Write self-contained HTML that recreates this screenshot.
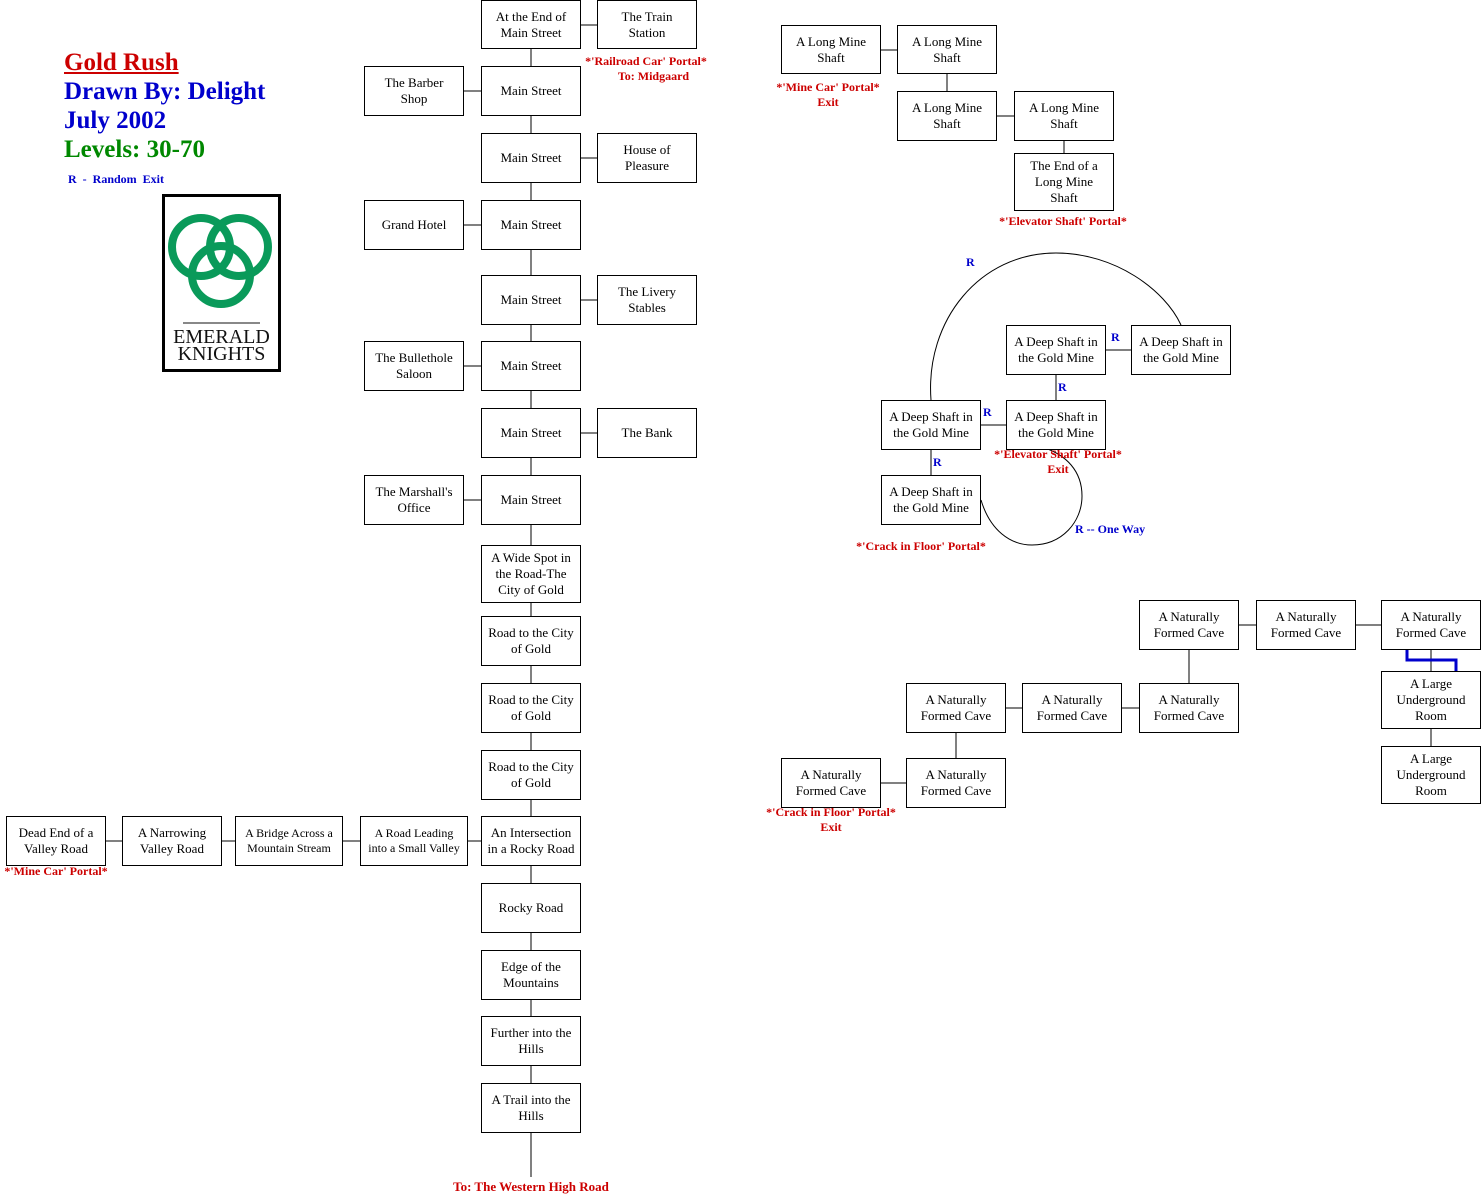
<!DOCTYPE html>
<html><head><meta charset="utf-8"><style>
body{margin:0;width:1481px;height:1194px;background:#fff;position:relative;overflow:hidden;font-family:"Liberation Serif",serif;}
.b{position:absolute;box-sizing:border-box;border:1px solid #000;background:#fff;display:flex;align-items:center;justify-content:center;text-align:center;font-size:13px;line-height:16px;color:#000;width:100px;height:50px;}
.s{font-size:12px;line-height:15px;}
.l{position:absolute;font-weight:bold;font-size:12px;line-height:15px;color:#c00;text-align:center;white-space:nowrap;}
.r{position:absolute;font-weight:bold;font-size:12px;color:#00c;white-space:nowrap;}
svg{position:absolute;left:0;top:0;}
</style></head><body>
<svg width="1481" height="1194" fill="none" stroke="#000" stroke-width="1">
<line x1="531" y1="49" x2="531" y2="1177"/>
<line x1="581" y1="25" x2="597" y2="25"/>
<line x1="464" y1="91" x2="481" y2="91"/>
<line x1="581" y1="158" x2="597" y2="158"/>
<line x1="464" y1="225" x2="481" y2="225"/>
<line x1="581" y1="300" x2="597" y2="300"/>
<line x1="464" y1="366" x2="481" y2="366"/>
<line x1="581" y1="433" x2="597" y2="433"/>
<line x1="464" y1="500" x2="481" y2="500"/>
<line x1="106" y1="841" x2="481" y2="841"/>
<line x1="881" y1="50" x2="897" y2="50"/>
<line x1="947" y1="74" x2="947" y2="91"/>
<line x1="997" y1="116" x2="1014" y2="116"/>
<line x1="1064" y1="141" x2="1064" y2="153"/>
<line x1="1106" y1="350" x2="1131" y2="350"/>
<line x1="1056" y1="375" x2="1056" y2="400"/>
<line x1="981" y1="425" x2="1006" y2="425"/>
<line x1="931" y1="450" x2="931" y2="475"/>
<path d="M931 400 C925 320 980 253 1056 253 C1115 253 1165 290 1181 325"/>
<path d="M981 500 C990 530 1010 545 1032 545 C1062 545 1082 522 1082 496 C1082 470 1065 455 1045 448"/>
<line x1="1239" y1="625" x2="1256" y2="625"/>
<line x1="1356" y1="625" x2="1381" y2="625"/>
<line x1="1189" y1="650" x2="1189" y2="683"/>
<line x1="1006" y1="708" x2="1022" y2="708"/>
<line x1="1122" y1="708" x2="1139" y2="708"/>
<line x1="956" y1="733" x2="956" y2="758"/>
<line x1="881" y1="783" x2="906" y2="783"/>
<line x1="1431" y1="650" x2="1431" y2="746"/>
<polyline points="1407,650 1407,660 1456,660 1456,671" stroke="#00c" stroke-width="3"/>
</svg>

<div style="position:absolute;left:64px;top:48px;font-weight:bold;font-size:25px;line-height:29px;">
<div style="color:#c00;text-decoration:underline;">Gold Rush</div>
<div style="color:#00c;">Drawn By: Delight</div>
<div style="color:#00c;">July 2002</div>
<div style="color:#080;">Levels: 30-70</div>
</div>
<div class="r" style="left:68px;top:172px;">R &nbsp;- &nbsp;Random &nbsp;Exit</div>

<div style="position:absolute;left:162px;top:194px;width:119px;height:178px;box-sizing:border-box;border:3px solid #000;background:#fff;">
<svg width="113" height="172" style="position:absolute;left:0;top:0;" fill="none" stroke="#0a9a5a" stroke-width="8">
<circle cx="36" cy="50" r="29"/><circle cx="74" cy="50" r="29"/><circle cx="56" cy="78" r="29"/>
<line x1="18" y1="126" x2="95" y2="126" stroke="#888" stroke-width="2"/>
</svg>
<div style="position:absolute;left:0;width:113px;top:132px;text-align:center;font-size:20px;line-height:17px;color:#111;">EMERALD<br>KNIGHTS</div>
</div>

<div class="b" style="left:481px;top:0;height:49px;">At the End of<br>Main Street</div>
<div class="b" style="left:597px;top:0;height:49px;">The Train<br>Station</div>
<div class="l" style="left:580px;top:54px;width:132px;">*'Railroad Car' Portal*<br>&nbsp;&nbsp;&nbsp;&nbsp;&nbsp;To: Midgaard</div>
<div class="b" style="left:364px;top:66px;">The Barber<br>Shop</div>
<div class="b" style="left:481px;top:66px;">Main Street</div>
<div class="b" style="left:481px;top:133px;">Main Street</div>
<div class="b" style="left:597px;top:133px;">House of<br>Pleasure</div>
<div class="b" style="left:364px;top:200px;">Grand Hotel</div>
<div class="b" style="left:481px;top:200px;">Main Street</div>
<div class="b" style="left:481px;top:275px;">Main Street</div>
<div class="b" style="left:597px;top:275px;">The Livery<br>Stables</div>
<div class="b" style="left:364px;top:341px;">The Bullethole<br>Saloon</div>
<div class="b" style="left:481px;top:341px;">Main Street</div>
<div class="b" style="left:481px;top:408px;">Main Street</div>
<div class="b" style="left:597px;top:408px;">The Bank</div>
<div class="b" style="left:364px;top:475px;">The Marshall's<br>Office</div>
<div class="b" style="left:481px;top:475px;">Main Street</div>
<div class="b" style="left:481px;top:545px;height:58px;">A Wide Spot in<br>the Road-The<br>City of Gold</div>
<div class="b" style="left:481px;top:616px;">Road to the City<br>of Gold</div>
<div class="b" style="left:481px;top:683px;">Road to the City<br>of Gold</div>
<div class="b" style="left:481px;top:750px;">Road to the City<br>of Gold</div>
<div class="b" style="left:481px;top:816px;">An Intersection<br>in a Rocky Road</div>
<div class="b" style="left:481px;top:883px;">Rocky Road</div>
<div class="b" style="left:481px;top:950px;">Edge of the<br>Mountains</div>
<div class="b" style="left:481px;top:1016px;">Further into the<br>Hills</div>
<div class="b" style="left:481px;top:1083px;">A Trail into the<br>Hills</div>
<div class="l" style="left:431px;top:1179px;width:200px;font-size:13px;">To: The Western High Road</div>

<div class="b" style="left:6px;top:816px;">Dead End of a<br>Valley Road</div>
<div class="l" style="left:0;top:864px;width:112px;">*'Mine Car' Portal*</div>
<div class="b" style="left:122px;top:816px;">A Narrowing<br>Valley Road</div>
<div class="b s" style="left:235px;top:816px;width:108px;">A Bridge Across a<br>Mountain Stream</div>
<div class="b s" style="left:360px;top:816px;width:108px;">A Road Leading<br>into a Small Valley</div>

<div class="b" style="left:781px;top:25px;height:49px;">A Long Mine<br>Shaft</div>
<div class="l" style="left:770px;top:80px;width:116px;">*'Mine Car' Portal*<br>Exit</div>
<div class="b" style="left:897px;top:25px;height:49px;">A Long Mine<br>Shaft</div>
<div class="b" style="left:897px;top:91px;">A Long Mine<br>Shaft</div>
<div class="b" style="left:1014px;top:91px;">A Long Mine<br>Shaft</div>
<div class="b" style="left:1014px;top:153px;height:58px;">The End of a<br>Long Mine<br>Shaft</div>
<div class="l" style="left:990px;top:214px;width:146px;">*'Elevator Shaft' Portal*</div>

<div class="r" style="left:966px;top:255px;">R</div>
<div class="b" style="left:1006px;top:325px;">A Deep Shaft in<br>the Gold Mine</div>
<div class="b" style="left:1131px;top:325px;">A Deep Shaft in<br>the Gold Mine</div>
<div class="r" style="left:1111px;top:330px;">R</div>
<div class="r" style="left:1058px;top:380px;">R</div>
<div class="b" style="left:881px;top:400px;">A Deep Shaft in<br>the Gold Mine</div>
<div class="b" style="left:1006px;top:400px;">A Deep Shaft in<br>the Gold Mine</div>
<div class="r" style="left:983px;top:405px;">R</div>
<div class="l" style="left:985px;top:447px;width:146px;">*'Elevator Shaft' Portal*<br>Exit</div>
<div class="r" style="left:933px;top:455px;">R</div>
<div class="b" style="left:881px;top:475px;">A Deep Shaft in<br>the Gold Mine</div>
<div class="l" style="left:848px;top:539px;width:146px;">*'Crack in Floor' Portal*</div>
<div class="r" style="left:1075px;top:522px;">R -- One Way</div>

<div class="b" style="left:1139px;top:600px;">A Naturally<br>Formed Cave</div>
<div class="b" style="left:1256px;top:600px;">A Naturally<br>Formed Cave</div>
<div class="b" style="left:1381px;top:600px;">A Naturally<br>Formed Cave</div>
<div class="b" style="left:906px;top:683px;">A Naturally<br>Formed Cave</div>
<div class="b" style="left:1022px;top:683px;">A Naturally<br>Formed Cave</div>
<div class="b" style="left:1139px;top:683px;">A Naturally<br>Formed Cave</div>
<div class="b" style="left:1381px;top:671px;height:58px;">A Large<br>Underground<br>Room</div>
<div class="b" style="left:1381px;top:746px;height:58px;">A Large<br>Underground<br>Room</div>
<div class="b" style="left:781px;top:758px;">A Naturally<br>Formed Cave</div>
<div class="b" style="left:906px;top:758px;">A Naturally<br>Formed Cave</div>
<div class="l" style="left:760px;top:805px;width:142px;">*'Crack in Floor' Portal*<br>Exit</div>
</body></html>
